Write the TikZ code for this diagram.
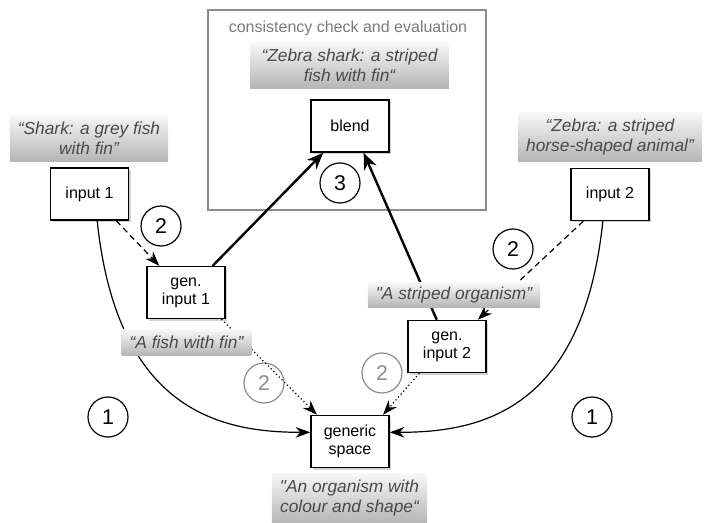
\documentclass[tikz,border=0pt]{standalone}
\usepackage{fontspec}
\setmainfont{Liberation Sans}
\newfontfamily\quotefont{Liberation Sans}
\usepackage{xcolor}
\usetikzlibrary{arrows.meta,shadows}
\definecolor{quotetext}{HTML}{4A4A4A}
\definecolor{framegray}{HTML}{8C8C8C}
\definecolor{titlegray}{HTML}{7A7A7A}

\begin{document}
\begin{tikzpicture}[x=0.75pt,y=0.75pt,line width=0.9pt,>={Stealth[length=11pt,width=8pt]}]
	    \tikzstyle{box}=[draw,fill=white,line width=1.1pt,minimum width=58.5pt,minimum height=39pt,inner sep=2pt,align=center,font=\fontsize{12}{13.5}\selectfont,drop shadow={shadow xshift=1.5pt,shadow yshift=-1.5pt,opacity=0.35}]
	    \tikzstyle{quote}=[top color=gray!6,bottom color=gray!58,text=quotetext,align=center,inner xsep=6pt,inner ysep=5pt,font=\quotefont\itshape\fontsize{13}{15}\selectfont]
	    \tikzstyle{num}=[draw,circle,minimum size=30pt,inner sep=0pt,font=\fontsize{16}{16}\selectfont]
	    \tikzstyle{numgray}=[num,draw=framegray,text=framegray]
	    \tikzstyle{thick arrow}=[-{Stealth[length=12.5pt,width=10pt]},line width=1.8pt]

	    \useasboundingbox (0,0) rectangle (705,-523);

	    \draw[framegray,line width=1.1pt] (208,-10) rectangle (486,-210);
	    \node[text=titlegray,font=\fontsize{12}{14}\selectfont](title) at (348,-28){consistency check and evaluation};

	    \node[box](in1) at (89.5,-194){input 1};
	    \node[box](in2) at (610,-194.5){input 2};
	    \node[box](gen1) at (186,-292.5){gen.\\input 1};
	    \node[box](gen2) at (447,-346.5){gen.\\input 2};
	    \node[box](gs) at (350,-441.5){generic\\space};
	    \node[box](blend) at (350,-126){blend};

	    \node[num](n2a) at (161,-226){2};
	    \node[num](n2b) at (513,-249){2};
	    \node[num](n3) at (340,-183){3};
	    \node[numgray](g2a) at (264,-383){2};
	    \node[numgray](g2b) at (382,-373){2};
	    \node[num](n1a) at (108,-417){1};
	    \node[num](n1b) at (592,-417){1};

	    \draw[->,dash pattern=on 4.5pt off 3pt] (in1.-45) -- (gen1.135);
	    \draw[->,dash pattern=on 4.5pt off 3pt] (in2.-135) -- (gen2.41);

	    \draw[thick arrow] (gen1.45) -- (blend.-135);
	    \draw[thick arrow] (gen2.111) -- (blend.-63);

	    \draw[->,dotted] (gen1.-37) -- (gs.141);
	    \draw[->,dotted] (gen2.-136) -- (gs.39);

	    \draw[->] (in1.-74) .. controls +(20,-190) and +(-90,0) .. (gs.167);
	    \draw[->] (in2.-105) .. controls +(-20,-190) and +(90,0) .. (gs.13);

	    %\node[quote] at (0,0){};
	    \node[quote](qshark) at (89,-138){“Shark: a grey fish\\with fin”};
	    \node[quote](qzebra) at (610,-137){“Zebra: a striped\\horse-shaped animal”};
	    \node[quote,minimum width=149pt](qblend) at (349.5,-65.5){“Zebra shark: a striped\\fish with fin“};
	    \node[quote](qgen1) at (186.5,-342.5){“A fish with fin”};
	    \node[quote,inner ysep=3pt](qgen2) at (454,-295){"A striped organism”};
	    \node[quote](qgs) at (349.5,-498){"An organism with\\colour and shape“};
\end{tikzpicture}
\end{document}
